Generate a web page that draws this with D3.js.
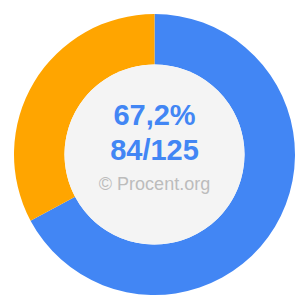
<!DOCTYPE html>
<html>
<head>
<meta charset="utf-8">
<script src="https://cdn.jsdelivr.net/npm/d3@7"></script>
<style>
  html, body { margin: 0; padding: 0; background: #ffffff; }
  svg { display: block; }
</style>
</head>
<body>
<div id="chart"></div>
<script>
// Chart data
const categories = ['part', 'rest'];
const values = [84, 41];
const total = 125;
const colors = ['#4286f4', '#ffa500'];
const labels = ['67,2%', '84/125', '© Procent.org'];

const width = 305;
const height = 305;
const cx = 154.5;
const cy = 154.5;
const outerR = 140.5;
const innerR = 90;

const svg = d3.select('#chart')
    .append('svg')
    .attr('width', width)
    .attr('height', height);

const g = svg.append('g')
    .attr('transform', `translate(${cx}, ${cy})`);

const pie = d3.pie()
    .sort(null)
    .value(d => d);

const arc = d3.arc()
    .innerRadius(innerR)
    .outerRadius(outerR);

const color = d3.scaleOrdinal()
    .domain(categories)
    .range(colors);

g.selectAll('path.slice')
    .data(pie(values))
    .enter()
    .append('path')
    .attr('class', 'slice')
    .attr('d', arc)
    .attr('fill', (d, i) => color(categories[i]));

// Center disc
g.append('circle')
    .attr('r', innerR)
    .attr('fill', '#f4f4f4');

// Center texts
const font = 'Liberation Sans, Arial, sans-serif';

g.append('text')
    .attr('x', 0)
    .attr('y', -30)
    .attr('text-anchor', 'middle')
    .attr('font-family', font)
    .attr('font-weight', 'bold')
    .attr('font-size', 29)
    .attr('fill', colors[0])
    .text(labels[0]);

g.append('text')
    .attr('x', 0)
    .attr('y', 5.5)
    .attr('text-anchor', 'middle')
    .attr('font-family', font)
    .attr('font-weight', 'bold')
    .attr('font-size', 29)
    .attr('fill', colors[0])
    .text(labels[1]);

g.append('text')
    .attr('x', 0)
    .attr('y', 35)
    .attr('text-anchor', 'middle')
    .attr('font-family', font)
    .attr('font-size', 18)
    .attr('fill', '#bcbcbc')
    .text(labels[2]);
</script>
</body>
</html>
